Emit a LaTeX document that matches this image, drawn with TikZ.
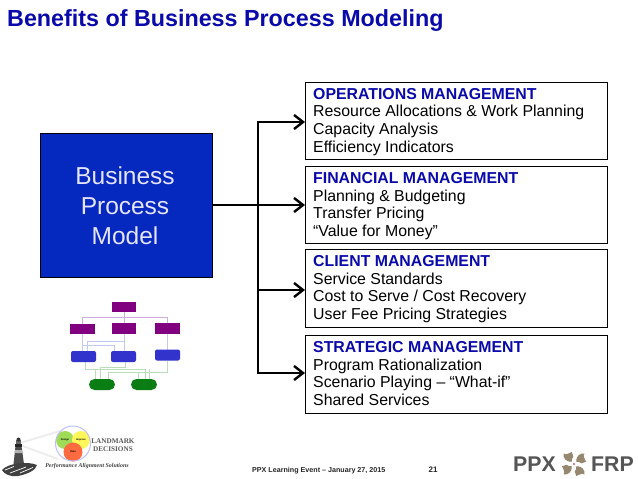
\documentclass[tikz,border=0pt]{standalone}
\usepackage{fontspec}
\setmainfont{Liberation Sans}
\newfontfamily\logoserif{Liberation Serif}
\definecolor{bluehead}{RGB}{10,10,170}
\definecolor{blueblock}{RGB}{5,40,190}
\definecolor{purp}{RGB}{128,0,128}
\definecolor{bluebox}{RGB}{50,50,205}
\definecolor{greenbox}{RGB}{10,125,20}
\definecolor{greyfrp}{RGB}{85,85,85}
\definecolor{taupe}{RGB}{150,135,112}
\definecolor{lnp}{RGB}{205,175,215}
\definecolor{lnb}{RGB}{195,200,238}
\definecolor{lng}{RGB}{185,222,185}
\usetikzlibrary{arrows.meta}
\tikzset{
 x=1pt,y=-1pt,
 mbox/.style={draw=black,line width=1pt,fill=white,anchor=north west,minimum width=302pt,inner sep=0pt,outer sep=0pt},
 btxt/.style={anchor=north west,align=left,inner sep=0pt,font=\fontsize{15.85}{17.6}\selectfont},
 conn/.style={line width=2.8pt,-{Straight Barb[length=9pt,width=14pt,line width=2.4pt]}},
 spine/.style={line width=2.8pt,line cap=rect},
 ptile/.style={fill=purp},
 btile/.style={fill=bluebox,rounded corners=2pt},
 gtile/.style={fill=greenbox,rounded corners=5.5pt},
}
\newcommand{\hd}[1]{{\bfseries\color{bluehead}#1}}
\begin{document}
\begin{tikzpicture}
\useasboundingbox (0,0) rectangle (638,479);
\fill[white] (0,0) rectangle (638,479);
\node[anchor=west,inner sep=0pt,font=\fontsize{23.3}{26}\selectfont\bfseries,text=bluehead] (title) at (7,21) {Benefits of Business Process Modeling};

\node[draw=black,line width=1pt,fill=blueblock,text=white!90!blue,anchor=north west,minimum width=172pt,minimum height=144pt,inner sep=0pt,align=center,font=\fontsize{24.5}{30}\selectfont] (bpm) at (40,133) {Business\kern3pt\\Process\kern3pt\\Model\kern3pt};

\node[mbox,minimum height=77pt] (b1) at (305,82) {};
\node[mbox,minimum height=77pt] (b2) at (305,166) {};
\node[mbox,minimum height=78pt] (b3) at (305,249) {};
\node[mbox,minimum height=78pt] (b4) at (305,335) {};
\node[btxt] (t1) at (313,88) {\hd{OPERATIONS MANAGEMENT}\\Resource Allocations \& Work Planning\\Capacity Analysis\\Efficiency Indicators};
\node[btxt] (t2) at (313,172.5) {\hd{FINANCIAL MANAGEMENT}\\Planning \& Budgeting\\Transfer Pricing\\“Value for Money”};
\node[btxt] (t3) at (313,255.5) {\hd{CLIENT MANAGEMENT}\\Service Standards\\Cost to Serve / Cost Recovery\\User Fee Pricing Strategies};
\node[btxt] (t4) at (313,341.5) {\hd{STRATEGIC MANAGEMENT}\\Program Rationalization\\Scenario Playing – “What-if”\\Shared Services};

\coordinate (sp1) at (258,122);
\coordinate (sp2) at (258,205);
\coordinate (sp3) at (258,290);
\coordinate (sp4) at (258,373);
\draw[spine] (sp1) -- (sp4);
\draw[conn] (sp1) -- (b1.west|-sp1);
\draw[conn] (bpm.east|-sp2) -- (b2.west|-sp2);
\draw[conn] (sp3) -- (b3.west|-sp3);
\draw[conn] (sp4) -- (b4.west|-sp4);

% small org chart
\begin{scope}[line width=.8pt]
\draw[lnp] (82,324)--(82,317.5)--(167,317.5)--(167,324);
\draw[lnp] (124,312)--(124,324);
\draw[lnb] (82,334)--(82,351);
\draw[lnb] (124,334)--(124,351);
\draw[lnb] (167,334)--(167,350);
\draw[lnb] (87,351)--(87,341)--(124,341);
\draw[lnb] (82,345.5)--(114,345.5)--(114,351);
\draw[lng] (85,362)--(85,369)--(145,369)--(145,379);
\draw[lng] (125,362)--(125,367)--(100,367)--(100,379);
\draw[lng] (95,369)--(95,379);
\draw[lng] (167,361)--(167,372)--(108,372)--(108,379);
\draw[lng] (138,372)--(138,379);
\draw[lng] (149,369)--(149,379);
\end{scope}
\fill[ptile] (111.5,301.5) rectangle (136,312);
\fill[ptile] (69.5,323.5) rectangle (94.5,334);
\fill[ptile] (111.5,323) rectangle (136,334);
\fill[ptile] (155,323) rectangle (179.5,334);
\fill[btile] (71,351) rectangle (96,362);
\fill[btile] (111,351) rectangle (136,362);
\fill[btile] (155,349.5) rectangle (180,360.5);
\fill[gtile] (89,379) rectangle (115,390);
\fill[gtile] (131,379) rectangle (157,390);

% lighthouse logo
\fill[gray!14] (20,442) -- (60,430) -- (60,432) -- (20,444) -- cycle;
\fill[gray!14] (20,444) -- (58,458) -- (58,460) -- (20,446) -- cycle;
\fill[black!70] (15.5,446) -- (21.5,446) -- (24,464) -- (13.5,464) -- cycle;
\fill[white!70!black] (15,450) -- (22,450) -- (22.4,453) -- (14.6,453) -- cycle;
\fill[black!85] (15,444) rectangle (22,446.5);
\fill[black!60] (16,440) rectangle (21,444);
\fill[black!80] (18.5,439.5) circle (2);
\fill[black!75] (2,470) .. controls (8,463) and (28,461) .. (37,465) .. controls (36,470) and (28,474) .. (18,476) .. controls (10,477) and (4,474) .. (2,470);
\draw[white,line width=.7pt] (5,470) -- (14,466.5) (10,473) -- (26,467) (20,473) -- (33,467.5);
\fill[white] (73,443.5) circle (17);
\fill[green!45!yellow!65!gray!80] (65,440) circle (9);
\fill[yellow!65!white] (81,440) circle (9);
\fill[red!55!orange!75!white] (73,452) circle (9.5);
\draw[black!15!blue!25!white,line width=1pt] (73,443.5) circle (17.5);
\node[inner sep=0pt,font=\fontsize{2.5}{3}\selectfont\bfseries] (v1) at (65,439.5) {Design};
\node[inner sep=0pt,font=\fontsize{2.5}{3}\selectfont\bfseries] (v2) at (81,439.5) {Improve};
\node[inner sep=0pt,font=\fontsize{2.5}{3}\selectfont\bfseries] (v3) at (73,451.5) {Data};
\node[inner sep=0pt,align=center,text=black!65,font=\logoserif\fontsize{7.2}{8.4}\selectfont\bfseries] (ld) at (113,445) {LANDMARK\\DECISIONS};
\node[inner sep=0pt,text=black!75,font=\logoserif\fontsize{5.9}{7}\selectfont\bfseries\itshape] (pa) at (87,466.5) {Performance Alignment Solutions};

% footer
\node[anchor=west,inner sep=0pt,font=\fontsize{7.15}{8}\selectfont\bfseries,text=black!85] (foot) at (252,470.5) {PPX Learning Event – January 27, 2015};
\node[anchor=west,inner sep=0pt,font=\fontsize{8}{9}\selectfont\bfseries,text=black!85] (num) at (428.5,470) {21};

% FRP logo
\node[anchor=west,inner sep=0pt,font=\fontsize{21.3}{22}\selectfont\bfseries,text=greyfrp] (ppx) at (513,464) {PPX};
\node[anchor=west,inner sep=0pt,font=\fontsize{21.3}{22}\selectfont\bfseries,text=greyfrp] (frp) at (591,464) {FRP};
\begin{scope}[shift={(574,464)},scale=.75]
\foreach \a in {0,90,180,270}{
 \fill[rotate=\a,taupe] (3,-3) .. controls (2,-10) and (8,-15) .. (14,-14) .. controls (11,-10) and (15,-7) .. (16,-3) -- (10,-1) .. controls (8,-3) and (5,-3) .. (3,-3) -- cycle;
}
\fill[white] (0,0) circle (3.6);
\fill[red!70!black] (0,0) circle (1.2);
\end{scope}
\end{tikzpicture}
\end{document}
